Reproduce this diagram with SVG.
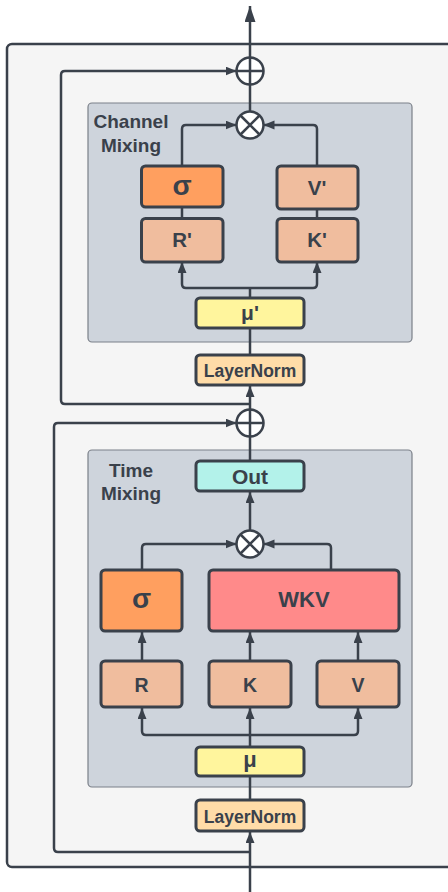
<svg xmlns="http://www.w3.org/2000/svg" width="448" height="892" viewBox="0 0 448 892">
  <style>
    .lbl { font-family: "Liberation Sans", Arial, sans-serif; font-weight: bold; fill: #3a414b; text-anchor: middle; }
    .box { stroke: #3a414b; stroke-width: 3; }
    .grp { fill: #ced4dc; stroke: #7b8089; stroke-width: 1.2; }
    .wire { fill: none; stroke: #3a414b; stroke-width: 2.5; }
    .arr { marker-end: url(#head); }
    .op { fill: #ffffff; stroke: #3a414b; stroke-width: 2.5; }
    .opl { stroke: #3a414b; stroke-width: 2.5; }
  </style>
  <defs>
    <marker id="head" markerUnits="userSpaceOnUse" markerWidth="12" markerHeight="10" refX="11" refY="4.5" orient="auto">
      <path d="M0,0 L11,4.5 L0,9 z" fill="#3a414b"/>
    </marker>
    <marker id="headBig" markerUnits="userSpaceOnUse" markerWidth="17" markerHeight="12" refX="16" refY="5.5" orient="auto">
      <path d="M0,0 L16,5.5 L0,11 z" fill="#3a414b"/>
    </marker>
  </defs>

  <!-- block frame -->
  <rect id="block" x="7" y="44" width="460" height="823" rx="5" fill="#f5f5f5" stroke="#3a414b" stroke-width="2.5"/>

  <!-- mixing groups -->
  <g id="channel-mixing">
    <rect class="grp" x="88" y="103" width="324" height="239" rx="4"/>
    <text class="lbl" x="131" y="128" font-size="19">Channel</text>
    <text class="lbl" x="131" y="152" font-size="19">Mixing</text>
  </g>
  <g id="time-mixing">
    <rect class="grp" x="88" y="450" width="324" height="337" rx="4"/>
    <text class="lbl" x="131" y="477" font-size="19">Time</text>
    <text class="lbl" x="131" y="500" font-size="19">Mixing</text>
  </g>

  <!-- connectors -->
  <g id="connectors">
    <!-- output -->
    <path class="wire" d="M250,111 V6" marker-end="url(#headBig)"/>
    <!-- residual around channel mixing -->
    <path class="wire arr" d="M250,404 H65 Q61,404 61,400 V75 Q61,71 65,71 H236.5"/>
    <!-- channel mixing internals -->
    <path class="wire arr" d="M182,166 V129 Q182,125 186,125 H236.5"/>
    <path class="wire arr" d="M317,166 V129 Q317,125 313,125 H263.5"/>
    <path class="wire" d="M182,207 V218"/>
    <path class="wire" d="M317,209 V218"/>
    <path class="wire" d="M250,298 V288"/>
    <path class="wire arr" d="M250,288 H186 Q182,288 182,284 V262"/>
    <path class="wire arr" d="M250,288 H313 Q317,288 317,284 V262"/>
    <path class="wire" d="M250,355 V328"/>
    <path class="wire arr" d="M250,409 V386"/>
    <!-- residual around time mixing -->
    <path class="wire" d="M250,461 V436"/>
    <path class="wire arr" d="M250,852 H58 Q54,852 54,848 V427 Q54,423 58,423 H236.5"/>
    <!-- time mixing internals -->
    <path class="wire arr" d="M250,530 V492"/>
    <path class="wire arr" d="M142,570 V548 Q142,544 146,544 H236.5"/>
    <path class="wire arr" d="M331,570 V548 Q331,544 327,544 H263.5"/>
    <path class="wire arr" d="M142,661 V632"/>
    <path class="wire arr" d="M250,661 V632"/>
    <path class="wire arr" d="M358,661 V632"/>
    <path class="wire arr" d="M250,747 V708"/>
    <path class="wire arr" d="M250,735 H146 Q142,735 142,731 V708"/>
    <path class="wire arr" d="M250,735 H354 Q358,735 358,731 V708"/>
    <path class="wire" d="M250,800 V776"/>
    <!-- input -->
    <path class="wire arr" d="M250,892 V832"/>
  </g>

  <!-- operators -->
  <g id="add-top">
    <circle class="op" cx="250" cy="71" r="13.5"/>
    <path class="opl" d="M236.5,71 H263.5 M250,57.5 V84.5"/>
  </g>
  <g id="mul-channel">
    <circle class="op" cx="250" cy="125" r="13.5"/>
    <path class="opl" d="M240.5,115.5 L259.5,134.5 M259.5,115.5 L240.5,134.5"/>
  </g>
  <g id="add-mid">
    <circle class="op" cx="250" cy="423" r="13.5"/>
    <path class="opl" d="M236.5,423 H263.5 M250,409.5 V436.5"/>
  </g>
  <g id="mul-time">
    <circle class="op" cx="250" cy="544" r="13.5"/>
    <path class="opl" d="M240.5,534.5 L259.5,553.5 M259.5,534.5 L240.5,553.5"/>
  </g>

  <!-- channel mixing nodes -->
  <g id="sigma-c">
    <rect class="box" x="141.5" y="166" width="81.5" height="41" rx="4" fill="#ff9f5f"/>
    <text class="lbl" x="182" y="195" font-size="28">σ</text>
  </g>
  <g id="v-prime">
    <rect class="box" x="277" y="166" width="81" height="43" rx="4" fill="#f0bd9e"/>
    <text class="lbl" x="317" y="195" font-size="20.5">V'</text>
  </g>
  <g id="r-prime">
    <rect class="box" x="141.5" y="218.5" width="81.5" height="43.5" rx="4" fill="#f0bd9e"/>
    <text class="lbl" x="182" y="247" font-size="20.5">R'</text>
  </g>
  <g id="k-prime">
    <rect class="box" x="277" y="218.5" width="81" height="43.5" rx="4" fill="#f0bd9e"/>
    <text class="lbl" x="317" y="247" font-size="20.5">K'</text>
  </g>
  <g id="mu-prime">
    <rect class="box" x="196" y="298" width="108" height="30" rx="4" fill="#fff59d"/>
    <text class="lbl" x="250" y="320" font-size="21">μ'</text>
  </g>
  <g id="layernorm-c">
    <rect class="box" x="196" y="355" width="108" height="30" rx="4" fill="#ffdca8"/>
    <text class="lbl" x="250" y="377" font-size="17.5">LayerNorm</text>
  </g>

  <!-- time mixing nodes -->
  <g id="out">
    <rect class="box" x="196" y="461" width="108" height="30" rx="4" fill="#b3f2ea"/>
    <text class="lbl" x="250" y="484" font-size="21">Out</text>
  </g>
  <g id="sigma-t">
    <rect class="box" x="101" y="570" width="81" height="61" rx="4" fill="#ff9f5f"/>
    <text class="lbl" x="141.5" y="608" font-size="28">σ</text>
  </g>
  <g id="wkv">
    <rect class="box" x="209" y="570" width="190" height="61" rx="4" fill="#ff8a8a"/>
    <text class="lbl" x="304" y="607" font-size="22">WKV</text>
  </g>
  <g id="r">
    <rect class="box" x="101" y="661" width="81" height="46" rx="4" fill="#f0bd9e"/>
    <text class="lbl" x="141.5" y="692" font-size="19.5">R</text>
  </g>
  <g id="k">
    <rect class="box" x="209" y="661" width="82" height="46" rx="4" fill="#f0bd9e"/>
    <text class="lbl" x="250" y="692" font-size="19.5">K</text>
  </g>
  <g id="v">
    <rect class="box" x="317" y="661" width="82" height="46" rx="4" fill="#f0bd9e"/>
    <text class="lbl" x="358" y="692" font-size="19.5">V</text>
  </g>
  <g id="mu">
    <rect class="box" x="196" y="747" width="108" height="29" rx="4" fill="#fff59d"/>
    <text class="lbl" x="250" y="767" font-size="22">μ</text>
  </g>
  <g id="layernorm-t">
    <rect class="box" x="196" y="800" width="108" height="31" rx="4" fill="#ffdca8"/>
    <text class="lbl" x="250" y="823" font-size="17.5">LayerNorm</text>
  </g>
</svg>
